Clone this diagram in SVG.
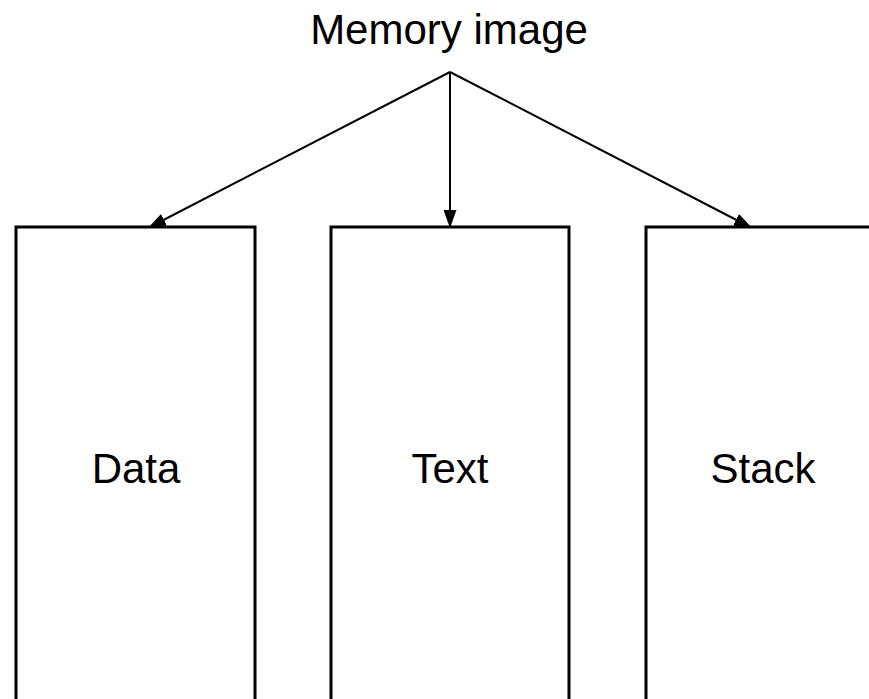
<svg xmlns="http://www.w3.org/2000/svg" width="869" height="699" viewBox="0 0 869 699">
<defs>
<style>
text{font-family:"Liberation Sans",Arial,sans-serif;font-size:42px;fill:#000;text-anchor:middle}
.box{fill:#fff;stroke:#000;stroke-width:3}
.conn{stroke:#000;stroke-width:2;fill:none}
</style>
<marker id="arr" markerWidth="18" markerHeight="13" refX="18" refY="6.5" orient="auto" markerUnits="userSpaceOnUse" viewBox="0 0 18 13">
<path d="M0,0 L18,6.5 L0,13 Z" fill="#000"/>
</marker>
</defs>
<rect width="869" height="699" fill="#fff"/>
<g id="title"><text x="449" y="44">Memory image</text></g>
<g id="connectors">
<line class="conn" x1="450" y1="72" x2="148" y2="228" marker-end="url(#arr)"/>
<line class="conn" x1="450" y1="72" x2="450" y2="228" marker-end="url(#arr)"/>
<line class="conn" x1="450" y1="72" x2="752" y2="228" marker-end="url(#arr)"/>
</g>
<g id="data"><rect class="box" x="16" y="227" width="239" height="490"/><text x="136" y="483">Data</text></g>
<g id="text"><rect class="box" x="331" y="227" width="238" height="490"/><text x="450" y="483">Text</text></g>
<g id="stack"><rect class="box" x="646" y="227" width="238" height="490"/><text x="763" y="483">Stack</text></g>
</svg>
